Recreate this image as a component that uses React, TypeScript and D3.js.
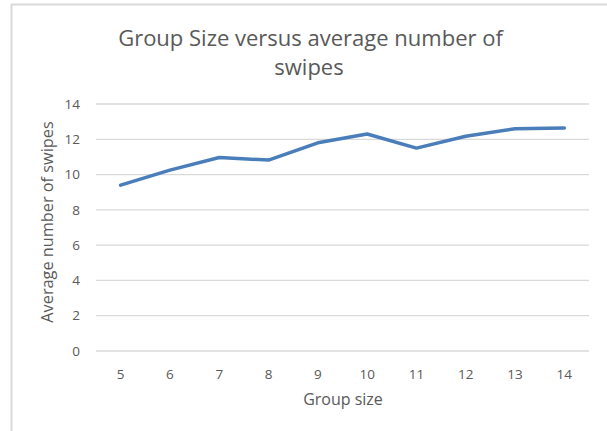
import React from "react";
import * as d3 from "d3";

const groupSizes = ["5", "6", "7", "8", "9", "10", "11", "12", "13", "14"];
const avgSwipes = [9.4, 10.25, 10.97, 10.82, 11.8, 12.3, 11.5, 12.17, 12.6, 12.64];
const yTicks = [0, 2, 4, 6, 8, 10, 12, 14];
const titleLines = ["Group Size versus average number of", "swipes"];
const xLabel = "Group size";
const yLabel = "Average number of swipes";

const W = 607;
const H = 431;
const FONT = "'Open Sans', 'Noto Sans', sans-serif";
const TEXT = "#595959";

export default function App() {
  const x = d3.scaleBand().domain(groupSizes).range([96, 589]);
  const y = d3.scaleLinear().domain([0, 14]).range([351, 104]);
  const line = d3
    .line<number>()
    .x((_, i) => (x(groupSizes[i]) as number) + x.bandwidth() / 2)
    .y((d) => y(d));

  return (
    <svg
      width={W}
      height={H}
      style={{ position: "absolute", left: 0, top: 0, background: "#fff" }}
      fontFamily={FONT}
    >
      <rect x={0} y={0} width={W} height={H} fill="#fff" />
      <line x1={11.5} y1={4} x2={11.5} y2={H} stroke="#d9d9d9" strokeWidth={2} />
      <line x1={11} y1={4.5} x2={W} y2={4.5} stroke="#d9d9d9" strokeWidth={2} />
      {titleLines.map((t, i) => (
        <text
          key={i}
          x={i === 0 ? 310.5 : 309}
          y={46 + i * 29}
          textAnchor="middle"
          fontSize={22}
          fill={TEXT}
        >
          {t}
        </text>
      ))}
      {yTicks.map((t) => (
        <g key={t}>
          <line
            x1={96}
            x2={589}
            y1={y(t)}
            y2={y(t)}
            stroke="#d9d9d9"
            strokeWidth={1.3}
          />
          <text
            x={80}
            y={y(t)}
            dy="0.35em"
            textAnchor="end"
            fontSize={13.5}
            fill={TEXT}
          >
            {t}
          </text>
        </g>
      ))}
      {groupSizes.map((g) => (
        <text
          key={g}
          x={(x(g) as number) + x.bandwidth() / 2}
          y={379}
          textAnchor="middle"
          fontSize={13.5}
          fill={TEXT}
        >
          {g}
        </text>
      ))}
      <text x={343} y={405} textAnchor="middle" fontSize={16} fill={TEXT}>
        {xLabel}
      </text>
      <text
        transform={`translate(53,222) rotate(-90)`}
        textAnchor="middle"
        fontSize={16.3}
        fill={TEXT}
      >
        {yLabel}
      </text>
      <path
        d={line(avgSwipes) || ""}
        fill="none"
        stroke="#4a7ebb"
        strokeWidth={3.5}
        strokeLinejoin="round"
        strokeLinecap="round"
      />
    </svg>
  );
}
